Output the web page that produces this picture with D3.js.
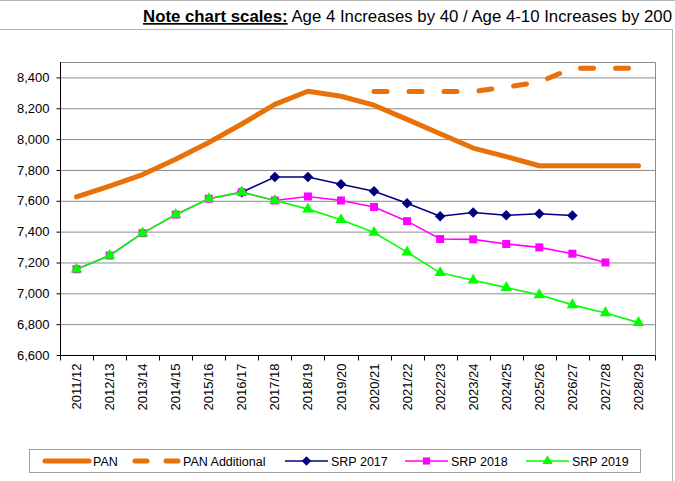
<!DOCTYPE html>
<html>
<head>
<meta charset="utf-8">
<script src="https://cdn.jsdelivr.net/npm/d3@7"></script>
<style>
  body { margin: 0; background: #fff; }
  svg { font-family: Arial, "Liberation Sans", sans-serif; }
</style>
</head>
<body>
<svg id="chart" width="675" height="481"></svg>
<script>
// Data
var years = ["2011/12", "2012/13", "2013/14", "2014/15", "2015/16", "2016/17", "2017/18", "2018/19", "2019/20",
  "2020/21", "2021/22", "2022/23", "2023/24", "2024/25", "2025/26", "2026/27", "2027/28", "2028/29"];
var pan = [7625, 7695, 7770, 7870, 7978, 8098, 8225, 8310, 8278, 8220, 8128, 8035, 7942, 7886, 7827, 7827, 7827, 7827];
var panAdditional = [null, null, null, null, null, null, null, null, null, 8308, 8308, 8308, 8308, 8337, 8370, 8460, 8460, 8460];
var srp2017 = [null, null, null, null, null, 7656, 7754, 7754, 7707, 7662, 7584, 7500, 7524, 7506, 7516, 7505];
var srp2018 = [7156, 7245, 7390, 7510, 7613, 7656, 7602, 7628, 7602, 7560, 7468, 7352, 7350, 7320, 7298, 7257, 7200];
var srp2019 = [7156, 7245, 7390, 7510, 7613, 7656, 7602, 7546, 7477, 7394, 7267, 7133, 7085, 7037, 6990, 6925, 6873, 6810];
var yTicks = [6600, 6800, 7000, 7200, 7400, 7600, 7800, 8000, 8200, 8400];
var legendNames = ["PAN", "PAN Additional", "SRP 2017", "SRP 2018", "SRP 2019"];

var svg = d3.select("#chart");

// title band lines and outer chart frame
svg.append("line")
    .attr("x1", 0).attr("x2", 675).attr("y1", 0.5).attr("y2", 0.5)
    .attr("stroke", "#b4b4b4");
svg.append("rect")
    .attr("x", -1).attr("y", 29.5)
    .attr("width", 673.5).attr("height", 460)
    .attr("fill", "none")
    .attr("stroke", "#b4b4b4");

// title
var title = svg.append("text")
    .attr("x", 672).attr("y", 22)
    .attr("text-anchor", "end")
    .style("font-size", "16.8px")
    .attr("fill", "#000");
title.append("tspan")
    .style("font-weight", "bold")
    .style("text-decoration", "underline")
    .text("Note chart scales:");
title.append("tspan")
    .text(" Age 4 Increases by 40 / Age 4-10 Increases by 200");

// plot area
var plotLeft = 60, plotRight = 655, plotTop = 62, plotBottom = 355;

var x = d3.scaleBand()
    .domain(years)
    .range([plotLeft, plotRight])
    .padding(0);

var y = d3.scaleLinear()
    .domain([6600, 8500])
    .range([plotBottom, plotTop]);

function cx(i) { return x(years[i]) + x.bandwidth() / 2; }

// gridlines
svg.append("g")
    .attr("transform", "translate(" + plotLeft + ",0)")
    .call(d3.axisLeft(y).tickValues(yTicks.slice(1)).tickSize(-(plotRight - plotLeft)).tickFormat(""))
    .call(g => g.select(".domain").remove())
    .selectAll("line")
    .attr("stroke", "#8c8c8c");

// plot border top/right
svg.append("path")
    .attr("d", "M" + plotLeft + "," + (plotTop + 0.5) + "H" + (plotRight + 0.5) + "V" + plotBottom)
    .attr("fill", "none")
    .attr("stroke", "#8c8c8c");

// y axis
var yAxis = svg.append("g")
    .attr("transform", "translate(" + (plotLeft + 0.5) + ",0)")
    .call(d3.axisLeft(y).tickValues(yTicks).tickSize(4).tickPadding(7).tickFormat(d3.format(",")));
yAxis.select(".domain").attr("d", "M0," + plotTop + "V" + (plotBottom + 0.5)).attr("stroke", "#000");
yAxis.selectAll("line").attr("stroke", "#000");
yAxis.selectAll("text").style("font-size", "13px").attr("fill", "#000");

// x axis
var xAxis = svg.append("g")
    .attr("transform", "translate(0," + (plotBottom + 0.5) + ")");
xAxis.append("line")
    .attr("x1", plotLeft).attr("x2", plotRight + 0.5)
    .attr("stroke", "#000");
xAxis.selectAll(".xtick")
    .data(years.concat(["end"]))
    .enter().append("line")
    .attr("class", "xtick")
    .attr("x1", (d, i) => Math.round(i < years.length ? x(d) : plotRight) + 0.5)
    .attr("x2", (d, i) => Math.round(i < years.length ? x(d) : plotRight) + 0.5)
    .attr("y1", 0).attr("y2", 5)
    .attr("stroke", "#000");
xAxis.selectAll(".xlabel")
    .data(years)
    .enter().append("text")
    .attr("class", "xlabel")
    .attr("transform", (d, i) => "translate(" + cx(i) + ",8) rotate(-90)")
    .attr("text-anchor", "end")
    .attr("dy", "0.35em")
    .style("font-size", "13px")
    .attr("fill", "#000")
    .text(d => d);

// lines
var line = d3.line()
    .defined(d => d != null)
    .x((d, i) => cx(i))
    .y(d => y(d));

var orange = "#E8710A";

svg.append("path")
    .datum(pan)
    .attr("d", line)
    .attr("fill", "none")
    .attr("stroke", orange)
    .attr("stroke-width", 5)
    .attr("stroke-linecap", "round")
    .attr("stroke-linejoin", "round");

svg.append("path")
    .datum(panAdditional)
    .attr("d", line)
    .attr("fill", "none")
    .attr("stroke", orange)
    .attr("stroke-width", 5)
    .attr("stroke-linecap", "round")
    .attr("stroke-dasharray", "13,22");

// square diamond like the spreadsheet marker
var squareDiamond = {
  draw: function (context, size) {
    var r = Math.sqrt(size / 2);
    context.moveTo(0, -r);
    context.lineTo(r, 0);
    context.lineTo(0, r);
    context.lineTo(-r, 0);
    context.closePath();
  }
};

var series = [
  { data: srp2017, color: "#000080", marker: squareDiamond, size: 56 },
  { data: srp2018, color: "#FF00FF", marker: d3.symbolSquare, size: 64 },
  { data: srp2019, color: "#00FF00", marker: d3.symbolTriangle, size: 56 }
];

series.forEach(function (s) {
  svg.append("path")
      .datum(s.data)
      .attr("d", line)
      .attr("fill", "none")
      .attr("stroke", s.color)
      .attr("stroke-width", 1.6);
  svg.append("g")
      .selectAll("path")
      .data(s.data.map((v, i) => ({ v: v, i: i })).filter(d => d.v != null))
      .enter().append("path")
      .attr("transform", d => "translate(" + cx(d.i) + "," + y(d.v) + ")")
      .attr("d", d3.symbol().type(s.marker).size(s.size))
      .attr("fill", s.color);
});

// legend
var legend = svg.append("g");
legend.append("rect")
    .attr("x", 29.5).attr("y", 449.5)
    .attr("width", 611).attr("height", 23)
    .attr("fill", "#fff")
    .attr("stroke", "#a0a0a0");

var legendX = [45, 135, 285, 405, 526];
var ly = 461;
legendNames.forEach(function (name, k) {
  var lx = legendX[k];
  var g = legend.append("g");
  if (k === 0) {
    g.append("line").attr("x1", lx).attr("x2", lx + 44).attr("y1", ly).attr("y2", ly)
        .attr("stroke", orange).attr("stroke-width", 5).attr("stroke-linecap", "round");
  } else if (k === 1) {
    g.append("line").attr("x1", lx).attr("x2", lx + 44).attr("y1", ly).attr("y2", ly)
        .attr("stroke", orange).attr("stroke-width", 5).attr("stroke-linecap", "round")
        .attr("stroke-dasharray", "12,19");
  } else {
    var s = series[k - 2];
    g.append("line").attr("x1", lx).attr("x2", lx + 43).attr("y1", ly).attr("y2", ly)
        .attr("stroke", s.color).attr("stroke-width", 1.6);
    g.append("path")
        .attr("transform", "translate(" + (lx + 21.5) + "," + ly + ")")
        .attr("d", d3.symbol().type(s.marker).size(s.size * 0.8))
        .attr("fill", s.color);
  }
  g.append("text")
      .attr("x", lx + (k < 2 ? 48 : 46))
      .attr("y", ly)
      .attr("dy", "0.36em")
      .style("font-size", "12.5px")
      .attr("fill", "#000")
      .text(name);
});
</script>
</body>
</html>
